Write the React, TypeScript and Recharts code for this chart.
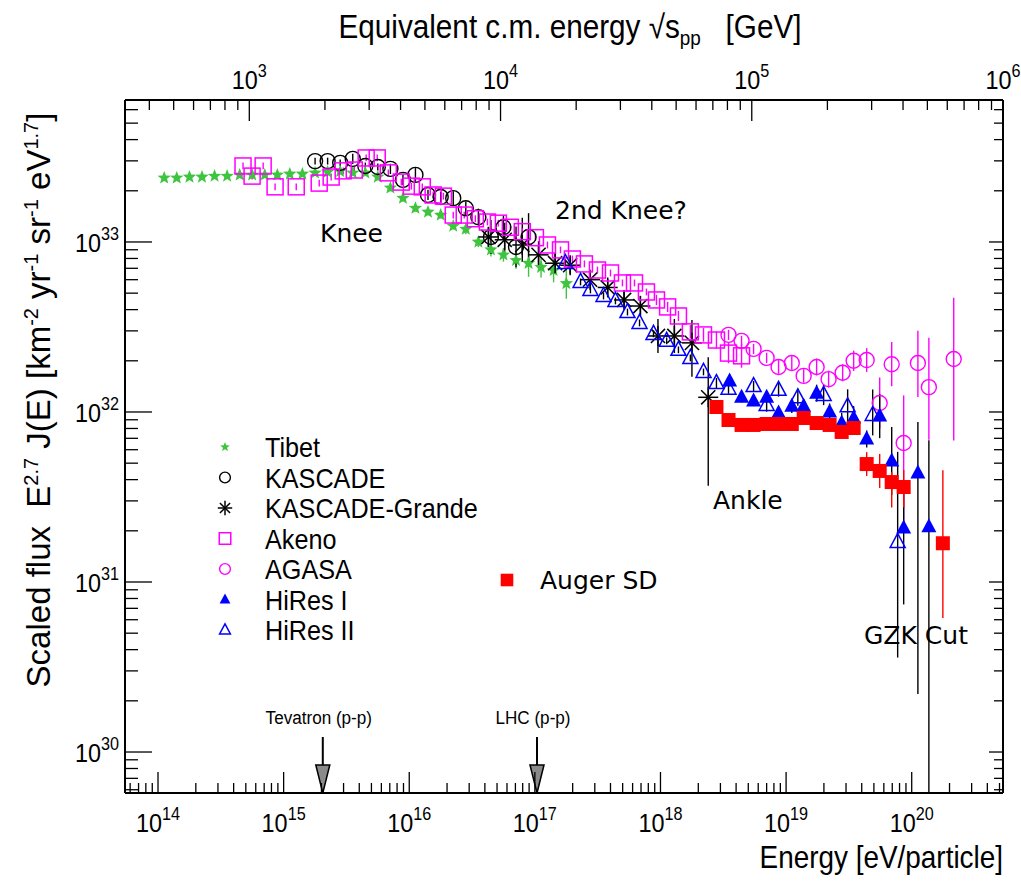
import { ScatterChart, Scatter, XAxis, YAxis, ErrorBar, ReferenceDot, Legend } from 'recharts';

const W = 1021;
const H = 880;
const SANS = '"Liberation Sans", Arial, Helvetica, sans-serif';
const DEJAVU = '"DejaVu Sans", Verdana, sans-serif';
const SQ = 0.9; // horizontal squeeze for the helvetica-style texts

const GREEN = '#3fc43f';
const MAGENTA = '#ff00ff';
const BLUE = '#0000ff';
const RED = '#ff0000';
const BLACK = '#000000';

// plot frame in px
const LEFT = 125;
const RIGHT = 1003;
const TOP = 100;
const BOTTOM = 793;

// axis ranges: energy [eV], scaled flux
const E_MIN = 5.46e13;
const E_MAX = 5.33e20;
const F_MIN = 5.74e29;
const F_MAX = 6.84e33;
// fixed-target equivalence: E = s / (2 m_p), with sqrt(s) in GeV and E in eV
const EV_PER_GEV2 = 1e18 / 1.876e9;
const S_MIN = 320;
const S_MAX = 1e6;

// collider reference energies [eV]
const TEVATRON_E = 2.05e15;
const LHC_E = 1.04e17;

// Tibet
const tibetE = [1.12e14, 1.41e14, 1.78e14, 2.24e14, 2.82e14, 3.55e14, 4.47e14, 5.62e14, 7.08e14, 8.91e14,
  1.12e15, 1.41e15, 1.78e15, 2.24e15, 2.82e15, 3.55e15, 4.47e15, 5.62e15, 7.08e15, 8.91e15,
  1.12e16, 1.41e16, 1.78e16, 2.24e16, 2.82e16, 3.55e16, 4.47e16, 5.62e16, 7.08e16, 8.91e16,
  1.12e17, 1.41e17, 1.78e17];
const tibetF = [2.38e33, 2.38e33, 2.41e33, 2.41e33, 2.44e33, 2.44e33, 2.48e33, 2.48e33, 2.48e33, 2.48e33,
  2.51e33, 2.51e33, 2.55e33, 2.58e33, 2.6e33, 2.55e33, 2.55e33, 2.41e33, 2.08e33, 1.81e33,
  1.58e33, 1.5e33, 1.44e33, 1.24e33, 1.19e33, 1.0e33, 0.9e33, 0.84e33, 0.78e33, 0.75e33,
  0.71e33, 0.68e33, 0.57e33];
const tibetErr = [0.01, 0.01, 0.01, 0.01, 0.01, 0.01, 0.01, 0.01, 0.01, 0.01,
  0.01, 0.01, 0.01, 0.01, 0.01, 0.01, 0.01, 0.02, 0.02, 0.02,
  0.02, 0.02, 0.02, 0.02, 0.03, 0.03, 0.04, 0.04, 0.05, 0.08,
  0.06, 0.07, 0.09];

// KASCADE
const kascadeE = [1.78e15, 2.24e15, 2.82e15, 3.55e15, 4.47e15, 5.62e15, 7.08e15, 8.91e15, 1.12e16,
  1.41e16, 1.78e16, 2.24e16, 2.82e16, 3.55e16, 4.47e16, 5.62e16, 7.08e16, 8.91e16];
const kascadeF = [2.99e33, 2.99e33, 2.92e33, 3.08e33, 2.8e33, 2.76e33, 2.69e33, 2.32e33, 2.48e33,
  1.89e33, 1.84e33, 1.81e33, 1.58e33, 1.4e33, 1.07e33, 1.22e33, 0.935e33, 1.07e33];
const kascadeErr = [0.02, 0.02, 0.02, 0.03, 0.02, 0.02, 0.03, 0.03, 0.04,
  0.03, 0.03, 0.04, 0.04, 0.05, 0.1, 0.07, 0.12, 0.14];

// KASCADE-Grande
const grandeE = [4.27e16, 5.75e16, 7.94e16, 1.07e17, 1.45e17, 1.91e17, 2.75e17, 3.8e17, 5.13e17,
  6.92e17, 9.55e17, 1.29e18, 1.78e18, 2.4e18];
const grandeF = [1.07e33, 1.03e33, 0.96e33, 0.84e33, 0.75e33, 0.73e33, 0.6e33, 0.54e33, 0.456e33,
  0.42e33, 0.28e33, 0.28e33, 0.255e33, 1.22e32];
const grandeErrLo = [0.06, 0.1, 0.1, 0.08, 0.06, 0.05, 0.04, 0.05, 0.05, 0.06, 0.1, 0.1, 0.2, 0.52];
const grandeErrHi = [0.06, 0.1, 0.16, 0.08, 0.06, 0.05, 0.04, 0.05, 0.05, 0.06, 0.1, 0.1, 0.135, 0.235];

// Akeno
const akenoE = [4.75e14, 5.61e14, 6.87e14, 8.55e14, 1.26e15, 1.92e15, 2.39e15, 2.98e15, 3.65e15, 4.54e15,
  5.56e15, 6.81e15, 8.64e15, 1.04e16, 1.27e16, 1.55e16, 1.87e16, 2.24e16, 2.74e16, 3.36e16,
  4.19e16, 5.12e16, 6.38e16, 7.94e16, 1.01e17, 1.26e17, 1.6e17, 1.99e17, 2.48e17, 3.15e17,
  4.0e17, 4.98e17, 6.21e17, 7.73e17, 9.29e17, 1.14e18, 1.39e18, 1.73e18, 2.2e18, 2.79e18,
  3.48e18, 4.42e18];
const akenoF = [2.8e33, 2.44e33, 2.8e33, 2.11e33, 2.11e33, 2.22e33, 2.41e33, 2.62e33, 2.65e33, 3.12e33,
  3.12e33, 2.55e33, 2.25e33, 2.13e33, 2.11e33, 1.89e33, 1.86e33, 1.44e33, 1.44e33, 1.37e33,
  1.31e33, 1.29e33, 1.22e33, 1.15e33, 1.06e33, 0.96e33, 0.898e33, 0.794e33, 0.743e33, 0.684e33,
  0.657e33, 0.574e33, 0.574e33, 0.508e33, 0.456e33, 0.415e33, 0.367e33, 0.296e33, 0.284e33, 0.265e33,
  0.222e33, 0.214e33];
const akenoErr = [0.02, 0.02, 0.02, 0.02, 0.02, 0.02, 0.02, 0.02, 0.02, 0.02,
  0.02, 0.02, 0.02, 0.02, 0.02, 0.02, 0.02, 0.02, 0.02, 0.02,
  0.02, 0.02, 0.02, 0.02, 0.02, 0.02, 0.02, 0.02, 0.02, 0.02,
  0.02, 0.02, 0.02, 0.02, 0.03, 0.03, 0.03, 0.04, 0.04, 0.05,
  0.06, 0.07];

// AGASA
const agasaE = [3.48e18, 4.42e18, 5.51e18, 7.0e18, 8.71e18, 1.11e19, 1.38e19, 1.75e19, 2.18e19,
  2.82e19, 3.45e19, 4.38e19, 5.56e19, 6.93e19, 8.63e19, 1.12e20, 1.37e20, 2.16e20];
const agasaF = [2.84e32, 2.62e32, 2.35e32, 2.08e32, 1.84e32, 1.94e32, 1.63e32, 1.84e32, 1.56e32,
  1.7e32, 2.0e32, 2.02e32, 1.13e32, 1.91e32, 6.57e31, 1.94e32, 1.4e32, 2.05e32];
const agasaErrLo = [0.03, 0.03, 0.03, 0.03, 0.04, 0.04, 0.04, 0.05, 0.05, 0.05, 0.06, 0.07, 0.15, 0.13, 0.47, 0.2, 0.31, 0.48];
const agasaErrHi = [0.03, 0.03, 0.03, 0.03, 0.04, 0.04, 0.04, 0.05, 0.05, 0.05, 0.06, 0.07, 0.15, 0.13, 0.28, 0.19, 0.29, 0.36];

// HiRes I (monocular)
const hires1E = [3.55e18, 4.42e18, 5.51e18, 7.0e18, 8.71e18, 1.11e19, 1.38e19, 1.75e19, 2.22e19,
  2.77e19, 3.45e19, 4.38e19, 5.56e19, 6.93e19, 8.63e19, 1.12e20, 1.37e20];
const hires1F = [1.52e32, 1.22e32, 1.16e32, 1.22e32, 9.87e31, 1.08e32, 1.08e32, 1.29e32, 1.0e32,
  8.61e31, 9.22e31, 6.94e31, 9.47e31, 5.15e31, 2.08e31, 4.38e31, 2.11e31];
const hires1ErrLo = [0.03, 0.03, 0.03, 0.03, 0.03, 0.04, 0.04, 0.05, 0.05, 0.06, 0.07, 0.05, 0.13, 0.2, 0.45, 1.3, 1.56];
const hires1ErrHi = [0.03, 0.03, 0.03, 0.03, 0.03, 0.04, 0.04, 0.05, 0.05, 0.06, 0.07, 0.05, 0.13, 0.2, 0.24, 0.3, 0.51];

// HiRes II
const hires2E = [1.75e17, 2.31e17, 2.77e17, 3.52e17, 4.38e17, 5.46e17, 6.81e17, 8.8e17, 1.12e18, 1.39e18,
  1.73e18, 2.2e18, 2.79e18, 3.48e18, 5.51e18, 7.0e18, 8.71e18, 1.24e19, 1.99e19, 3.09e19,
  4.89e19, 7.73e19];
const hires2F = [7.52e32, 5.82e32, 5.22e32, 4.81e32, 4.5e32, 3.87e32, 3.34e32, 2.88e32, 2.62e32, 2.32e32,
  2.08e32, 1.72e32, 1.48e32, 1.37e32, 1.42e32, 1.1e32, 1.35e32, 1.22e32, 1.26e32, 1.08e32,
  9.6e31, 1.72e31];
const hires2ErrLo = [0.02, 0.02, 0.02, 0.02, 0.02, 0.02, 0.02, 0.02, 0.02, 0.02,
  0.02, 0.02, 0.03, 0.03, 0.03, 0.04, 0.04, 0.05, 0.06, 0.1, 0.12, 0.68];
const hires2ErrHi = [0.02, 0.02, 0.02, 0.02, 0.02, 0.02, 0.02, 0.02, 0.02, 0.02,
  0.02, 0.02, 0.03, 0.03, 0.03, 0.04, 0.04, 0.05, 0.06, 0.1, 0.15, 0.53];

// Auger SD
const augerE = [2.79e18, 3.48e18, 4.42e18, 5.51e18, 7.0e18, 8.71e18, 1.11e19, 1.38e19, 1.75e19,
  2.22e19, 2.77e19, 3.45e19, 4.38e19, 5.56e19, 6.93e19, 8.63e19, 1.77e20];
const augerF = [1.07e32, 8.97e31, 8.39e31, 8.39e31, 8.5e31, 8.5e31, 8.5e31, 9.22e31, 8.61e31,
  8.39e31, 7.63e31, 8.05e31, 4.94e31, 4.5e31, 3.87e31, 3.62e31, 1.69e31];
const augerErrLo = [0.01, 0.01, 0.01, 0.01, 0.01, 0.01, 0.01, 0.02, 0.02, 0.02, 0.03, 0.03, 0.07, 0.1, 0.15, 0.12, 0.44];
const augerErrHi = [0.01, 0.01, 0.01, 0.01, 0.01, 0.01, 0.01, 0.02, 0.02, 0.02, 0.03, 0.03, 0.07, 0.1, 0.06, 0.1, 0.43];

// errors are kept as log10 half-widths; ErrorBar wants [below, above] offsets
const build = (e: number[], f: number[], lo: number[], hi: number[] = lo) =>
  e.map((v, i) => ({
    e: v,
    f: f[i],
    err: [f[i] * (1 - Math.pow(10, -lo[i])), f[i] * (Math.pow(10, hi[i]) - 1)],
  }));

const logTicks = (lo: number, hi: number) => {
  const out: number[] = [];
  for (let n = Math.floor(Math.log10(lo)); n <= Math.ceil(Math.log10(hi)); n++) {
    for (let k = 1; k <= 9; k++) {
      const v = Number((k * Math.pow(10, n)).toPrecision(3));
      if (v >= lo && v <= hi) out.push(v);
    }
  }
  return out;
};

const isMajor = (v: number) => Math.abs(Math.log10(v) - Math.round(Math.log10(v))) < 1e-6;

// top axis ticks live on the energy scale; each one remembers its sqrt(s) value
const sqrtSTicks = logTicks(S_MIN, S_MAX);
const topTicks = sqrtSTicks.map((s) => s * s * EV_PER_GEV2);
const sqrtSOf = (e: number) => sqrtSTicks[topTicks.findIndex((t) => Math.abs(t / e - 1) < 1e-6)];

type Kind = 'star' | 'circle' | 'asterisk' | 'square' | 'mcircle' | 'tri' | 'otri' | 'rsquare';

function Marker({ kind, cx, cy, s = 1 }: { kind: Kind; cx: number; cy: number; s?: number }) {
  if (cx == null || cy == null) return null;
  switch (kind) {
    case 'star': {
      const pts: string[] = [];
      for (let i = 0; i < 10; i++) {
        const a = -Math.PI / 2 + (i * Math.PI) / 5;
        const r = (i % 2 === 0 ? 7 : 3) * s;
        pts.push(`${cx + r * Math.cos(a)},${cy + r * Math.sin(a)}`);
      }
      return <polygon points={pts.join(' ')} fill={GREEN} />;
    }
    case 'circle':
      return <circle cx={cx} cy={cy} r={7.5 * s} fill="none" stroke={BLACK} strokeWidth={1.4} />;
    case 'mcircle':
      return <circle cx={cx} cy={cy} r={7.5 * s} fill="none" stroke={MAGENTA} strokeWidth={1.4} />;
    case 'asterisk': {
      const r = 10 * s;
      const d = r * Math.SQRT1_2;
      return (
        <g stroke={BLACK} strokeWidth={1.5}>
          <line x1={cx - r} y1={cy} x2={cx + r} y2={cy} />
          <line x1={cx} y1={cy - r} x2={cx} y2={cy + r} />
          <line x1={cx - d} y1={cy - d} x2={cx + d} y2={cy + d} />
          <line x1={cx - d} y1={cy + d} x2={cx + d} y2={cy - d} />
        </g>
      );
    }
    case 'square':
      return <rect x={cx - 8 * s} y={cy - 8 * s} width={16 * s} height={16 * s} fill="none" stroke={MAGENTA} strokeWidth={1.5} />;
    case 'rsquare':
      return <rect x={cx - 7 * s} y={cy - 7 * s} width={14 * s} height={14 * s} fill={RED} />;
    case 'tri':
    case 'otri': {
      const pts = `${cx},${cy - 8.5 * s} ${cx - 7.5 * s},${cy + 5.5 * s} ${cx + 7.5 * s},${cy + 5.5 * s}`;
      return kind === 'tri'
        ? <polygon points={pts} fill={BLUE} />
        : <polygon points={pts} fill="none" stroke={BLUE} strokeWidth={1.5} />;
    }
  }
  return null;
}

const series = [
  { name: 'Tibet', kind: 'star' as Kind, bar: GREEN, data: build(tibetE, tibetF, tibetErr) },
  { name: 'KASCADE', kind: 'circle' as Kind, bar: BLACK, data: build(kascadeE, kascadeF, kascadeErr) },
  { name: 'KASCADE-Grande', kind: 'asterisk' as Kind, bar: BLACK, data: build(grandeE, grandeF, grandeErrLo, grandeErrHi) },
  { name: 'Akeno', kind: 'square' as Kind, bar: MAGENTA, data: build(akenoE, akenoF, akenoErr) },
  { name: 'AGASA', kind: 'mcircle' as Kind, bar: MAGENTA, data: build(agasaE, agasaF, agasaErrLo, agasaErrHi) },
  { name: 'HiRes I', kind: 'tri' as Kind, bar: BLACK, data: build(hires1E, hires1F, hires1ErrLo, hires1ErrHi) },
  { name: 'HiRes II', kind: 'otri' as Kind, bar: BLACK, data: build(hires2E, hires2F, hires2ErrLo, hires2ErrHi) },
];
const auger = { name: 'Auger SD', kind: 'rsquare' as Kind, bar: RED, data: build(augerE, augerF, augerErrLo, augerErrHi) };

// "10^n" label, squeezed horizontally like the other helvetica text
function Pow({ x, y, exp, anchor }: { x: number; y: number; exp: number; anchor: 'middle' | 'end' }) {
  return (
    <text transform={`translate(${x} ${y}) scale(${SQ} 1)`} textAnchor={anchor} fontFamily={SANS} fontSize={26} fill={BLACK}>
      10<tspan dy={-12} fontSize={18}>{exp}</tspan>
    </text>
  );
}

const BottomTick = (p: any) => {
  const v = p.payload.value;
  const major = isMajor(v);
  return (
    <g>
      <line x1={p.x} y1={BOTTOM} x2={p.x} y2={BOTTOM - (major ? 21 : 10)} stroke={BLACK} strokeWidth={1.3} />
      {major && <Pow x={p.x} y={BOTTOM + 39} exp={Math.round(Math.log10(v))} anchor="middle" />}
    </g>
  );
};

const TopTick = (p: any) => {
  const s = sqrtSOf(p.payload.value);
  if (s == null) return null;
  const major = isMajor(s);
  return (
    <g>
      <line x1={p.x} y1={TOP} x2={p.x} y2={TOP + (major ? 21 : 10)} stroke={BLACK} strokeWidth={1.3} />
      {major && <Pow x={p.x} y={TOP - 11} exp={Math.round(Math.log10(s))} anchor="middle" />}
    </g>
  );
};

const LeftTick = (p: any) => {
  const v = p.payload.value;
  const major = isMajor(v);
  return (
    <g>
      <line x1={LEFT} y1={p.y} x2={LEFT + (major ? 27 : 13)} y2={p.y} stroke={BLACK} strokeWidth={1.3} />
      {major && <Pow x={LEFT - 6} y={p.y + 10} exp={Math.round(Math.log10(v))} anchor="end" />}
    </g>
  );
};

const RightTick = (p: any) => {
  const major = isMajor(p.payload.value);
  return <line x1={RIGHT} y1={p.y} x2={RIGHT - (major ? 14 : 9)} y2={p.y} stroke={BLACK} strokeWidth={1.3} />;
};

const ColliderArrow = ({ cx, cy, label }: { cx?: number; cy?: number; label: string }) => {
  if (cx == null || cy == null) return null;
  return (
    <g>
      <text transform={`translate(${cx - 4} ${cy - 69}) scale(${SQ} 1)`} textAnchor="middle" fontFamily={SANS} fontSize={19} fill={BLACK}>
        {label}
      </text>
      <line x1={cx} y1={cy - 56} x2={cx} y2={cy - 27} stroke={BLACK} strokeWidth={2} />
      <polygon points={`${cx - 7},${cy - 28} ${cx + 7},${cy - 28} ${cx},${cy}`} fill="#8a8a8a" stroke={BLACK} strokeWidth={1.5} />
    </g>
  );
};

const legendRowY = (i: number) => 17 + i * 30.5;

const LegendBox = () => (
  <svg width={480} height={220} style={{ overflow: 'visible' }}>
    {series.map((s, i) => (
      <g key={s.name}>
        <Marker kind={s.kind} cx={25} cy={legendRowY(i)} s={0.72} />
        <text transform={`translate(65 ${legendRowY(i) + 10}) scale(${SQ} 1)`} fontFamily={SANS} fontSize={28} fill={BLACK}>
          {s.name}
        </text>
      </g>
    ))}
    <Marker kind={auger.kind} cx={307} cy={150} s={0.9} />
    <text x={340} y={159} fontFamily={DEJAVU} fontSize={25} fill={BLACK}>{auger.name}</text>
  </svg>
);

const sup = (t: string) => <tspan dy={-12} fontSize={20}>{t}</tspan>;
const base = (t: string) => <tspan dy={12}>{t}</tspan>;

export default function App() {
  const eTicks = logTicks(E_MIN, E_MAX);
  const fTicks = logTicks(F_MIN, F_MAX);
  const axisLine = { stroke: BLACK, strokeWidth: 2 };

  return (
    <div style={{ position: 'absolute', left: 0, top: 0, width: W, height: H, background: '#fff' }}>
      <ScatterChart width={W} height={H} margin={{ top: TOP - 1, right: W - RIGHT - 1, bottom: H - BOTTOM - 1, left: LEFT - 1 }}>
        <XAxis xAxisId="e" dataKey="e" type="number" scale="log" domain={[E_MIN, E_MAX]} allowDataOverflow
          ticks={eTicks} interval={0} height={1} tickSize={0} tickMargin={0} tickLine={false} axisLine={axisLine} tick={<BottomTick />} />
        <XAxis xAxisId="t" dataKey="e" orientation="top" type="number" scale="log" domain={[E_MIN, E_MAX]} allowDataOverflow
          ticks={topTicks} interval={0} height={1} tickSize={0} tickMargin={0} tickLine={false} axisLine={axisLine} tick={<TopTick />} />
        <YAxis yAxisId="f" dataKey="f" type="number" scale="log" domain={[F_MIN, F_MAX]} allowDataOverflow
          ticks={fTicks} interval={0} width={1} tickSize={0} tickMargin={0} tickLine={false} axisLine={axisLine} tick={<LeftTick />} />
        <YAxis yAxisId="r" dataKey="f" orientation="right" type="number" scale="log" domain={[F_MIN, F_MAX]} allowDataOverflow
          ticks={fTicks} interval={0} width={1} tickSize={0} tickMargin={0} tickLine={false} axisLine={axisLine} tick={<RightTick />} />

        {[...series, auger].map((s) => (
          <Scatter key={s.name} name={s.name} xAxisId="e" yAxisId="f" data={s.data} isAnimationActive={false}
            shape={(p: any) => <Marker kind={s.kind} cx={p.cx} cy={p.cy} />}>
            <ErrorBar dataKey="err" direction="y" width={0} stroke={s.bar} strokeWidth={1.4} />
          </Scatter>
        ))}

        <ReferenceDot xAxisId="e" yAxisId="f" x={TEVATRON_E} y={F_MIN} r={0} ifOverflow="visible"
          shape={(p: any) => <ColliderArrow cx={p.cx} cy={p.cy} label="Tevatron (p-p)" />} />
        <ReferenceDot xAxisId="e" yAxisId="f" x={LHC_E} y={F_MIN} r={0} ifOverflow="visible"
          shape={(p: any) => <ColliderArrow cx={p.cx} cy={p.cy} label="LHC (p-p)" />} />

        <Legend layout="vertical" align="center" verticalAlign="middle"
          wrapperStyle={{ left: 200, top: 430, width: 480, height: 220 }} content={() => <LegendBox />} />
      </ScatterChart>

      <svg width={W} height={H} style={{ position: 'absolute', left: 0, top: 0, pointerEvents: 'none' }}>
        <text transform={`translate(570 38) scale(${SQ} 1)`} textAnchor="middle" fontFamily={SANS} fontSize={33} fill={BLACK}>
          Equivalent c.m. energy √s<tspan dy={7} fontSize={21}>pp</tspan><tspan dy={-7}>{'\u00a0\u00a0\u00a0[GeV]'}</tspan>
        </text>
        <text transform={`translate(1003 868) scale(${SQ} 1)`} textAnchor="end" fontFamily={SANS} fontSize={31} fill={BLACK}>
          Energy [eV/particle]
        </text>
        <text transform="translate(50 400) rotate(-90)" textAnchor="middle" fontFamily={SANS} fontSize={33} fill={BLACK}>
          {'Scaled flux\u00a0\u00a0E'}{sup('2.7')}{base(' J(E) [km')}{sup('-2')}{base(' yr')}{sup('-1')}{base(' sr')}{sup('-1')}{base(' eV')}{sup('1.7')}{base(']')}
        </text>
        <g fontFamily={DEJAVU} fontSize={25} fill={BLACK}>
          <text x={320} y={242}>Knee</text>
          <text x={555} y={219}>2nd Knee?</text>
          <text x={713} y={509}>Ankle</text>
          <text x={864} y={644}>GZK Cut</text>
        </g>
      </svg>
    </div>
  );
}
